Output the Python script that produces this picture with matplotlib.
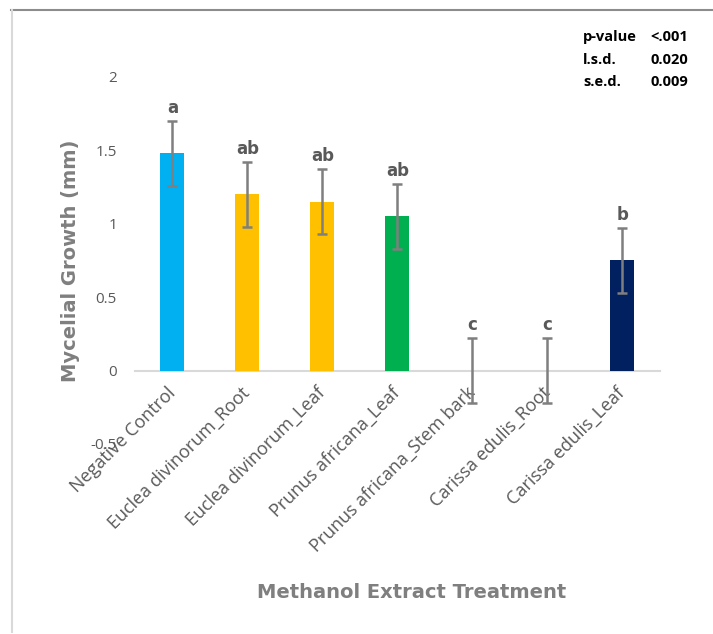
import matplotlib

matplotlib.use("Agg")
import matplotlib.pyplot as plt
from matplotlib.lines import Line2D

# Data
treatments = [
    "Negative Control",
    "Euclea divinorum_Root",
    "Euclea divinorum_Leaf",
    "Prunus africana_Leaf",
    "Prunus africana_Stem bark",
    "Carissa edulis_Root",
    "Carissa edulis_Leaf",
]
growth = [1.48, 1.20, 1.15, 1.05, 0.0, 0.0, 0.75]
growth_err = [0.22, 0.22, 0.22, 0.22, 0.22, 0.22, 0.22]
letters = ["a", "ab", "ab", "ab", "c", "c", "b"]
bar_colours = ["#00B0F0", "#FFC000", "#FFC000", "#00B050", "#00B050", "#002060", "#002060"]
yticks = [-0.5, 0, 0.5, 1, 1.5, 2]
ytick_labels = ["-0.5", "0", "0.5", "1", "1.5", "2"]
stats_names = ["p-value", "l.s.d.", "s.e.d."]
stats_values = ["<.001", "0.020", "0.009"]

GREY = "#595959"
TICK_FONT = ["Open Sans", "DejaVu Sans"]

fig = plt.figure(figsize=(7.13, 6.34), dpi=100)
ax = fig.add_axes([0.1893, 0.2997, 0.7363, 0.5789])

# move the category axis to y = 0 first (this resets tick styling)
for side in ["top", "right", "left"]:
    ax.spines[side].set_visible(False)
ax.spines["bottom"].set_position(("data", 0))
ax.spines["bottom"].set_color("#D9D9D9")
ax.spines["bottom"].set_linewidth(1.5)
ax.spines["bottom"].set_zorder(1)

x = range(len(treatments))
ax.bar(x, growth, width=0.32, color=bar_colours, zorder=2)
ax.errorbar(
    x, growth, yerr=growth_err, fmt="none", ecolor="#7F7F7F",
    elinewidth=1.8, capsize=3.5, capthick=1.8, zorder=3,
)
for i, (g, e, lab) in enumerate(zip(growth, growth_err, letters)):
    ax.annotate(
        lab, (i, g + e), xytext=(0, 3), textcoords="offset points",
        ha="center", va="bottom", fontsize=12, fontweight="heavy", color=GREY,
    )

ax.set_xlim(-0.5, len(treatments) - 0.5)
ax.set_ylim(-0.5, 2)
ax.set_yticks(yticks)
ax.set_yticklabels(ytick_labels, fontsize=11, color=GREY, family=TICK_FONT)
ax.set_xticks(list(x))
ax.set_xticklabels(
    treatments, rotation=45, ha="right", va="center", rotation_mode="anchor",
    fontsize=13, color=GREY, family=TICK_FONT,
)
ax.tick_params(axis="both", length=0)
ax.tick_params(axis="y", pad=13)
ax.tick_params(axis="x", pad=14)

ax.set_ylabel("Mycelial Growth (mm)", fontsize=14, fontweight="heavy", color="#7F7F7F", labelpad=8)
fig.text(0.577, 0.066, "Methanol Extract Treatment", ha="center", va="center",
         fontsize=14, fontweight="heavy", color="#7F7F7F")

# statistics box, top right
for k, (name, val) in enumerate(zip(stats_names, stats_values)):
    yy = 1 - (37 + 22.5 * k) / 634
    fig.text(583 / 713, yy, name, ha="left", va="center", fontsize=10.5,
             fontweight="bold", color="black", family=TICK_FONT)
    fig.text(688 / 713, yy, val, ha="right", va="center", fontsize=10.5,
             fontweight="bold", color="black", family=TICK_FONT)

# chart-area border fragments
fig.add_artist(Line2D([11 / 713, 1], [1 - 10 / 634, 1 - 10 / 634], color="#8C8C8C", lw=1.5))
fig.add_artist(Line2D([12 / 713, 12 / 713], [1 - 10 / 634, 1 - 632 / 634], color="#D9D9D9", lw=1.5))

fig.savefig("out.png", dpi=100)
